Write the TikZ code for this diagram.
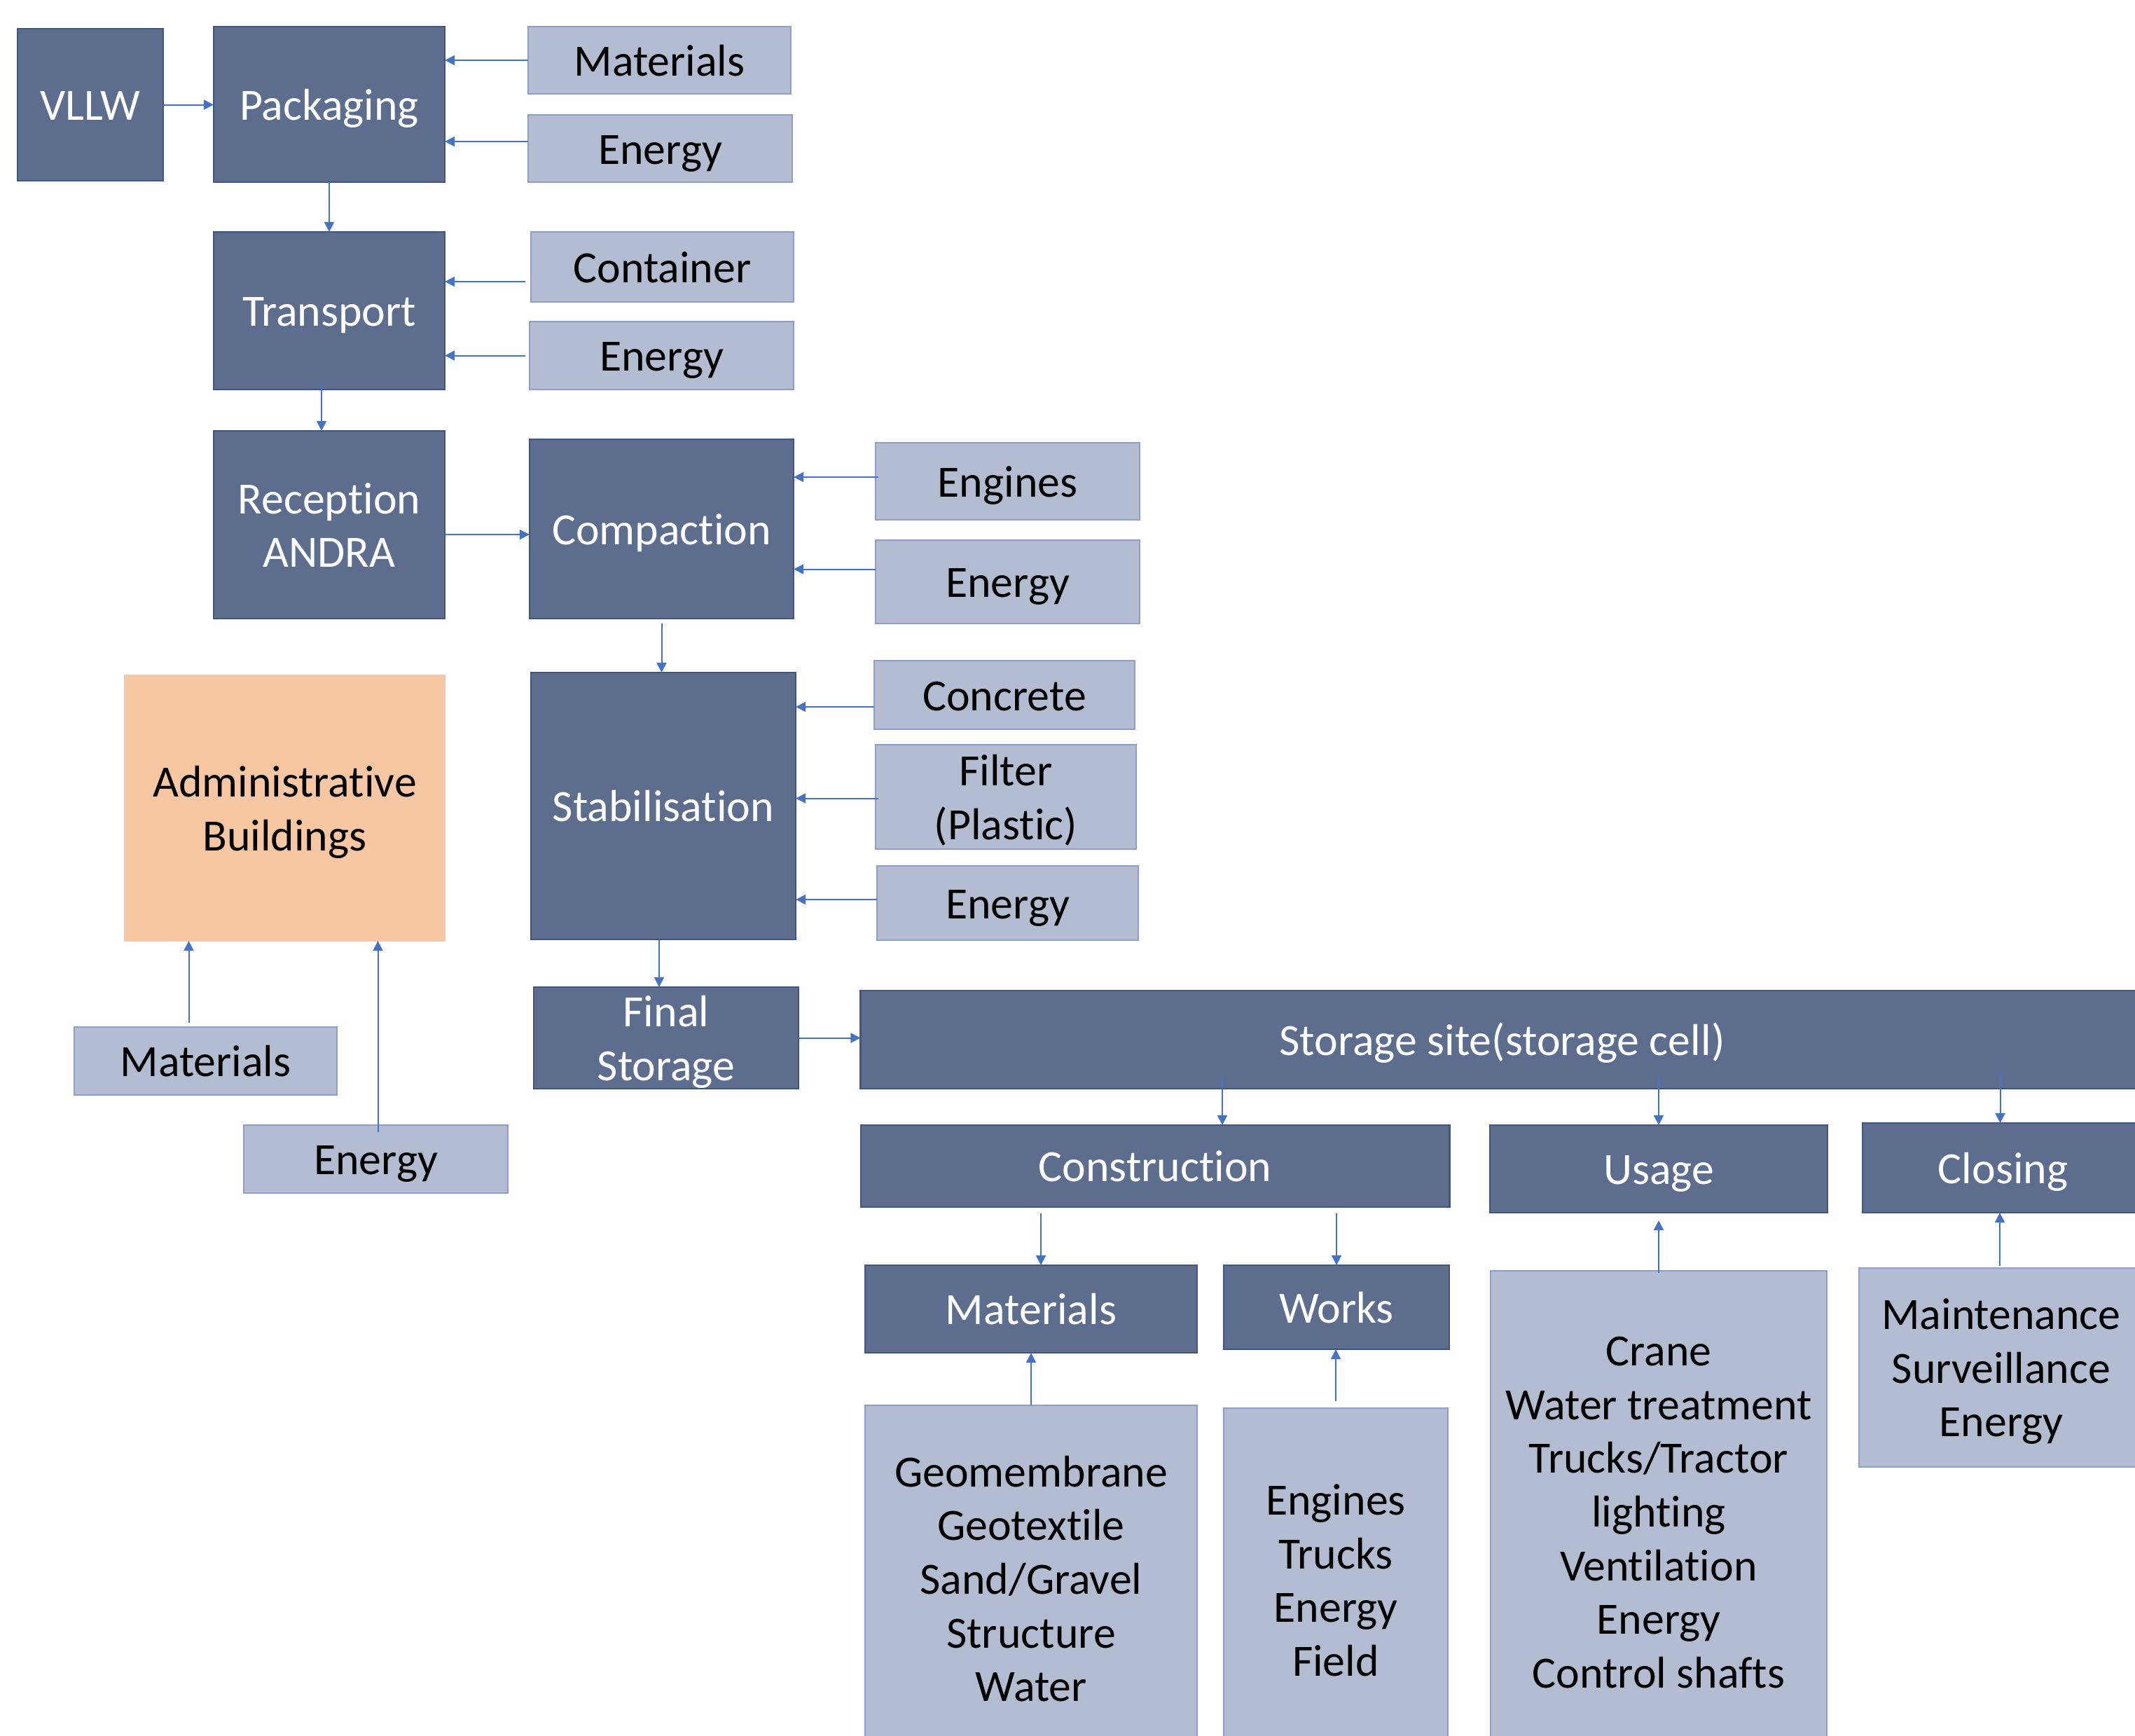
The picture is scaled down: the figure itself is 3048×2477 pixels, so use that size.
\documentclass[tikz,border=0pt]{standalone}
\usepackage{fontspec}
\setmainfont{Carlito}[Ligatures=NoCommon]
\usetikzlibrary{arrows.meta,calc}
\definecolor{dk}{HTML}{5D6D8E}
\definecolor{dkb}{HTML}{42557D}
\definecolor{lt}{HTML}{B3BCD1}
\definecolor{ltb}{HTML}{8D9FC8}
\definecolor{org}{HTML}{F7C6A3}
\definecolor{arrc}{HTML}{4472C4}
\newcommand\zz{\rule[-0.17em]{0pt}{1.04em}}
\begin{document}
\begin{tikzpicture}[x=0.01cm,y=-0.01cm,
  base/.style={rectangle, inner sep=0pt, outer sep=0pt, align=center,
    font=\fontsize{18.15pt}{21.8pt}\selectfont,
    execute at begin node=\zz, execute at end node=\zz},
  dark/.style={base, fill=dk, draw=dkb, line width=0.025cm, text=white},
  light/.style={base, fill=lt, draw=ltb, line width=0.02cm, text=black},
  orangebox/.style={base, fill=org, draw=org, line width=0.01cm, text=black},
  arr/.style={draw=arrc, line width=0.02cm, -{Triangle[length=0.14cm,width=0.14cm]}},
  ]
\useasboundingbox (0,0) rectangle (3048,2477);
\clip (0,0) rectangle (3048,2477);

% dark boxes
\node[dark, minimum width=2.08cm, minimum height=2.17cm] (vllw) at (129,149.5) {VLLW};
\node[dark, minimum width=3.30cm, minimum height=2.22cm] (pack) at (470,149) {Packaging};
\node[dark, minimum width=3.30cm, minimum height=2.25cm] (trans) at (470,443.5) {Transport};
\node[dark, minimum width=3.30cm, minimum height=2.68cm] (recep) at (470,749) {\zz Reception\\ANDRA};
\node[dark, minimum width=3.77cm, minimum height=2.56cm] (comp) at (944.5,755) {Compaction};
\node[dark, minimum width=3.78cm, minimum height=3.81cm] (stab) at (947,1150.5) {Stabilisation};
\node[dark, minimum width=3.78cm, minimum height=1.45cm] (final) at (951,1481.5) {\zz Final\\Storage};
\node[dark, minimum width=18.31cm, minimum height=1.40cm] (site) at (2144.5,1484) {Storage site(storage cell)};
\node[dark, minimum width=8.40cm, minimum height=1.17cm] (cons) at (1649,1664.5) {Construction};
\node[dark, minimum width=4.82cm, minimum height=1.25cm] (usage) at (2368,1668.5) {Usage};
\node[dark, minimum width=4.01cm, minimum height=1.28cm] (closing) at (2859.5,1667) {Closing};
\node[dark, minimum width=4.74cm, minimum height=1.25cm] (cmat) at (1472,1868.5) {Materials};
\node[dark, minimum width=3.22cm, minimum height=1.20cm] (works) at (1908,1866) {Works};

% light boxes
\node[light, minimum width=3.75cm, minimum height=0.96cm] (mat1) at (941.5,86) {Materials};
\node[light, minimum width=3.77cm, minimum height=0.96cm] (en1) at (942.5,212) {Energy};
\node[light, minimum width=3.75cm, minimum height=1.00cm] (cont) at (945.5,381) {Container};
\node[light, minimum width=3.77cm, minimum height=0.97cm] (en2) at (944.5,507.5) {Energy};
\node[light, minimum width=3.77cm, minimum height=1.10cm] (eng) at (1438.5,687) {Engines};
\node[light, minimum width=3.77cm, minimum height=1.19cm] (en3) at (1438.5,830.5) {Energy};
\node[light, minimum width=3.72cm, minimum height=0.98cm] (conc) at (1434,992) {Concrete};
\node[light, minimum width=3.72cm, minimum height=1.49cm] (filt) at (1436,1137.5) {\zz Filter\\(Plastic)};
\node[light, minimum width=3.73cm, minimum height=1.06cm] (en4) at (1438.5,1289) {Energy};
\node[light, minimum width=3.75cm, minimum height=0.97cm] (amat) at (293.5,1514.5) {Materials};
\node[light, minimum width=3.77cm, minimum height=0.97cm] (aen) at (536.5,1654.5) {Energy};
\node[light, minimum width=4.74cm, minimum height=4.94cm] (geo) at (1472,2253) {\zz Geomembrane\\Geotextile\\Sand/Gravel\\Structure\\Water};
\node[light, minimum width=3.20cm, minimum height=4.90cm] (wlist) at (1907,2255) {\zz Engines\\Trucks\\Energy\\Field};
\node[light, minimum width=4.80cm, minimum height=6.86cm] (ulist) at (2368,2157) {\zz Crane\\Water treatment\\Trucks/Tractor\\lighting\\Ventilation\\Energy\\Control shafts};
\node[light, minimum width=4.06cm, minimum height=2.84cm] (mlist) at (2857,1952) {\zz Maintenance\\Surveillance\\Energy};

% orange box
\node[orangebox, minimum width=4.57cm, minimum height=3.79cm] (admin) at (406.5,1153.5) {\zz Administrative\\Buildings};

% connectors
\draw[arr] (vllw.east) -- (vllw.east -| pack.west);
\draw[arr] (mat1.west) -- (mat1.west -| pack.east);
\coordinate (p3) at ($(en1.west)+(0,-10)$);
\draw[arr] (p3) -- (p3 -| pack.east);
\draw[arr] (pack.south) -- (trans.north);
\coordinate (p5) at ($(cont.west)+(-8,21)$);
\draw[arr] (p5) -- (p5 -| trans.east);
\coordinate (p6) at ($(en2.west)+(-6,0)$);
\draw[arr] (p6) -- (p6 -| trans.east);
\coordinate (p7) at ($(trans.south)+(-11,-8)$);
\draw[arr] (p7) -- (p7 |- recep.north);
\coordinate (p8) at ($(recep.east)+(0,14)$);
\draw[arr] (p8) -- (p8 -| comp.west);
\coordinate (p9) at ($(eng.west)+(4,-6)$);
\draw[arr] (p9) -- (p9 -| comp.east);
\coordinate (p10) at ($(en3.west)+(0,-18)$);
\draw[arr] (p10) -- (p10 -| comp.east);
\coordinate (p11) at ($(comp.south)+(0,7)$);
\draw[arr] (p11) -- (p11 |- stab.north);
\coordinate (p12) at ($(conc.west)+(0,17)$);
\draw[arr] (p12) -- (p12 -| stab.east);
\coordinate (p13) at ($(filt.west)+(4,2)$);
\draw[arr] (p13) -- (p13 -| stab.east);
\coordinate (p14) at ($(en4.west)+(0,-5)$);
\draw[arr] (p14) -- (p14 -| stab.east);
\coordinate (p15) at ($(stab.south)+(-6,0)$);
\draw[arr] (p15) -- (p15 |- final.north);
\draw[arr] (final.east) -- (final.east -| site.west);
\coordinate (p17) at ($(cons.north)+(96,-69)$);
\draw[arr] (p17) -- (p17 |- cons.north);
\coordinate (p18) at ($(usage.north)+(0,-69)$);
\draw[arr] (p18) -- (usage.north);
\coordinate (p19) at ($(closing.north)+(-4,-71)$);
\draw[arr] (p19) -- (p19 |- closing.north);
\coordinate (p20) at ($(cmat.north)+(14,-74)$);
\draw[arr] (p20) -- (p20 |- cmat.north);
\coordinate (p21) at ($(works.north)+(0,-74)$);
\draw[arr] (p21) -- (works.north);
\draw[arr] (geo.north) -- (cmat.south);
\coordinate (p23) at ($(wlist.north)+(0,-10)$);
\draw[arr] (p23) -- (p23 |- works.south);
\coordinate (p24) at ($(ulist.north)+(0,3)$);
\draw[arr] (p24) -- ($(usage.south)+(0,11)$);
\coordinate (p25) at ($(mlist.north)+(-2,-3)$);
\draw[arr] (p25) -- (p25 |- closing.south);
\coordinate (p26) at ($(amat.north)+(-24,-6)$);
\draw[arr] (p26) -- (p26 |- admin.south);
\coordinate (p27) at ($(aen.north)+(3,10)$);
\draw[arr] (p27) -- (p27 |- admin.south);
\end{tikzpicture}
\end{document}
